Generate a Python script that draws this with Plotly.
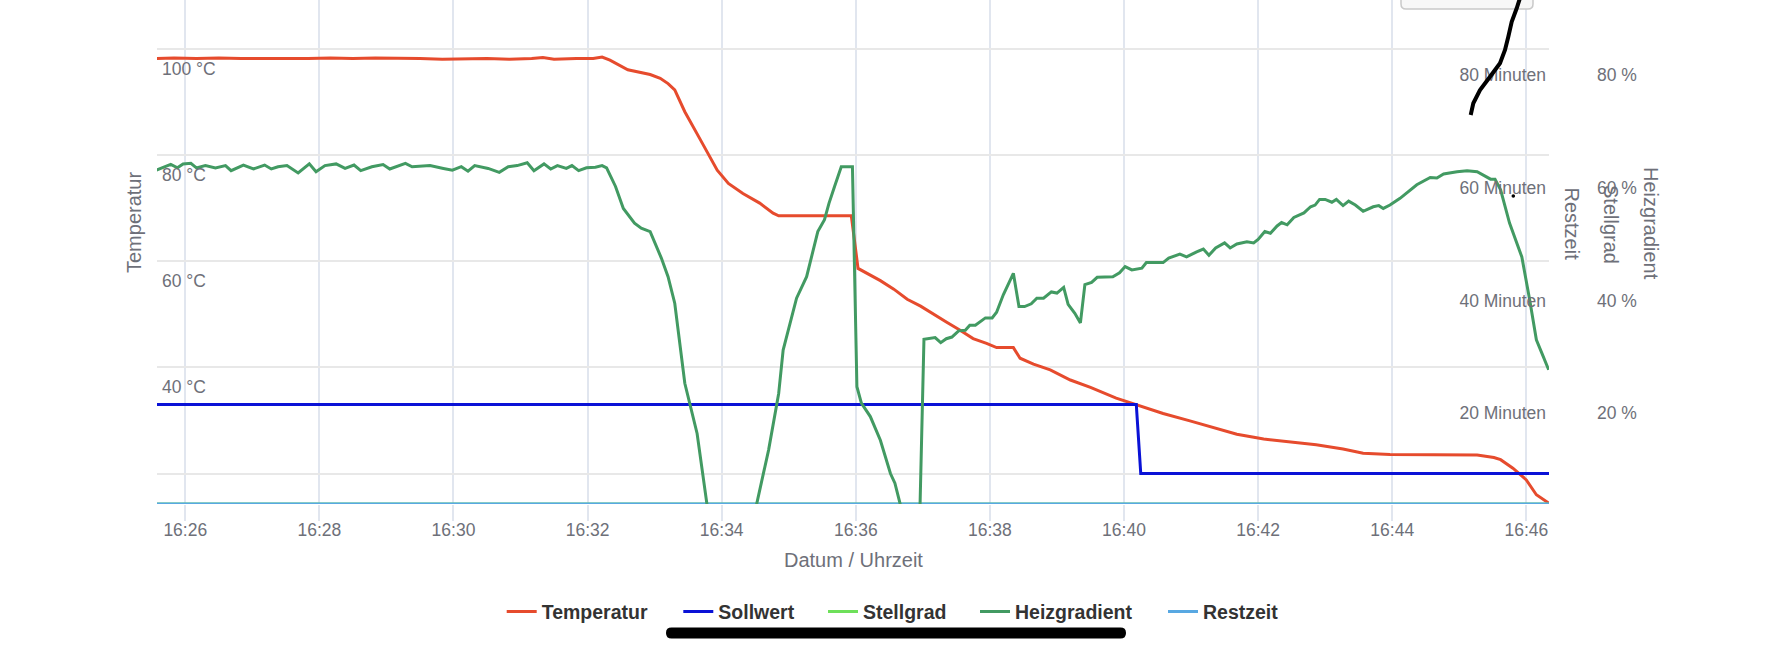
import plotly.graph_objects as go

DAY = "2024-03-10"

# ---------------- data ----------------
temp_times = ["16:25:34", "16:25:50", "16:26:10", "16:26:30", "16:26:50", "16:27:10", "16:27:30",
              "16:27:50", "16:28:10", "16:28:30", "16:28:50", "16:29:10", "16:29:30", "16:29:50",
              "16:30:10", "16:30:30", "16:30:50", "16:31:10", "16:31:20", "16:31:30", "16:31:50",
              "16:32:05", "16:32:13", "16:32:20", "16:32:36", "16:32:56", "16:33:05", "16:33:12",
              "16:33:18", "16:33:27", "16:33:41", "16:33:56", "16:34:06", "16:34:19", "16:34:34",
              "16:34:46", "16:34:51", "16:35:56", "16:36:02", "16:36:10", "16:36:22", "16:36:34",
              "16:36:46", "16:36:58", "16:37:09", "16:37:21", "16:37:33", "16:37:45", "16:37:57",
              "16:38:06", "16:38:21", "16:38:27", "16:38:39", "16:38:54", "16:39:12", "16:39:30",
              "16:39:53", "16:40:11", "16:40:35", "16:40:59", "16:41:17", "16:41:41", "16:42:05",
              "16:42:29", "16:42:52", "16:43:16", "16:43:34", "16:43:58", "16:44:34", "16:45:16",
              "16:45:31", "16:45:37", "16:45:48", "16:46:00", "16:46:09", "16:46:18", "16:46:21"]
temp_values = [98.1, 98.2, 98.1, 98.2, 98.1, 98.1, 98.0,
               98.1, 98.2, 98.1, 98.2, 98.2, 98.1, 98.0,
               98.1, 98.1, 98.0, 98.1, 98.3, 98.0, 98.1,
               98.1, 98.4, 97.8, 96.0, 95.1, 94.4, 93.4,
               92.2, 88.1, 82.8, 77.1, 74.6, 72.7, 70.9,
               69.0, 68.5, 68.5, 58.6, 57.7, 56.3, 54.7,
               52.8, 51.5, 50.0, 48.5, 47.0, 45.4, 44.5,
               43.7, 43.7, 41.7, 40.6, 39.5, 37.6, 36.2,
               34.2, 32.9, 31.3, 29.9, 28.8, 27.4, 26.5,
               25.9, 25.4, 24.6, 23.8, 23.6, 23.5, 23.5,
               23.0, 22.6, 21.0, 18.8, 16.0, 14.7, 14.3]

soll_times = ["16:25:34", "16:40:11", "16:40:15", "16:46:21"]
soll_values = [33, 33, 20, 20]

stell_times = ["16:25:34", "16:46:21"]
stell_values = [0, 0]

heiz_times = ["16:25:34", "16:25:47", "16:25:53", "16:25:58", "16:26:05", "16:26:10", "16:26:18",
              "16:26:27", "16:26:36", "16:26:41", "16:26:52", "16:27:01", "16:27:11", "16:27:17",
              "16:27:23", "16:27:31", "16:27:41", "16:27:51", "16:27:57", "16:28:05", "16:28:15",
              "16:28:23", "16:28:31", "16:28:37", "16:28:47", "16:28:57", "16:29:03", "16:29:17",
              "16:29:23", "16:29:39", "16:29:51", "16:29:59", "16:30:07", "16:30:13", "16:30:19",
              "16:30:31", "16:30:41", "16:30:49", "16:30:57", "16:31:06", "16:31:12", "16:31:21",
              "16:31:27", "16:31:33", "16:31:41", "16:31:46", "16:31:52", "16:31:59", "16:32:07",
              "16:32:13", "16:32:17", "16:32:25", "16:32:32", "16:32:42", "16:32:48", "16:32:56",
              "16:33:06", "16:33:12", "16:33:18", "16:33:27", "16:33:38", "16:34:04", "16:34:42",
              "16:34:51", "16:34:55", "16:35:01", "16:35:07", "16:35:16", "16:35:26", "16:35:32",
              "16:35:36", "16:35:41", "16:35:47", "16:35:57", "16:36:01", "16:36:05", "16:36:13",
              "16:36:22", "16:36:31", "16:36:35", "16:36:56", "16:37:01", "16:37:11", "16:37:16",
              "16:37:21", "16:37:26", "16:37:32", "16:37:38", "16:37:42", "16:37:47", "16:37:56",
              "16:38:02", "16:38:06", "16:38:12", "16:38:21", "16:38:26", "16:38:31", "16:38:37",
              "16:38:42", "16:38:48", "16:38:55", "16:39:00", "16:39:06", "16:39:10", "16:39:16",
              "16:39:21", "16:39:25", "16:39:31", "16:39:36", "16:39:50", "16:39:56", "16:40:01",
              "16:40:07", "16:40:16", "16:40:20", "16:40:35", "16:40:40", "16:40:50", "16:40:56",
              "16:41:05", "16:41:11", "16:41:16", "16:41:22", "16:41:30", "16:41:35", "16:41:41",
              "16:41:50", "16:41:56", "16:42:00", "16:42:06", "16:42:11", "16:42:17", "16:42:21",
              "16:42:26", "16:42:32", "16:42:41", "16:42:47", "16:42:51", "16:42:55", "16:43:00",
              "16:43:06", "16:43:10", "16:43:16", "16:43:21", "16:43:27", "16:43:34", "16:43:43",
              "16:43:48", "16:43:52", "16:43:58", "16:44:07", "16:44:22", "16:44:34", "16:44:40",
              "16:44:46", "16:44:58", "16:45:07", "16:45:16", "16:45:22", "16:45:28", "16:45:32",
              "16:45:37", "16:45:45", "16:45:56", "16:46:03", "16:46:09", "16:46:14", "16:46:20"]
heiz_values = [59.2, 60.2, 59.6, 60.3, 60.4, 59.6, 60.0,
               59.6, 60.0, 59.1, 60.1, 59.4, 60.1, 59.4,
               59.8, 60.0, 58.7, 60.3, 58.9, 60.0, 60.3,
               59.5, 60.1, 59.1, 59.8, 60.2, 59.4, 60.4,
               59.8, 60.0, 59.5, 59.2, 59.8, 59.0, 60.0,
               59.5, 58.8, 59.8, 60.0, 60.5, 59.1, 60.3,
               59.4, 60.0, 59.5, 60.0, 59.1, 59.6, 59.7,
               60.0, 59.6, 56.3, 52.4, 49.8, 48.9, 48.3,
               43.6, 40.3, 35.6, 21.4, 12.5, -24.5, 9.6,
               19.6, 27.3, 32.0, 36.5, 40.3, 48.3, 50.4,
               53.3, 56.3, 59.8, 59.8, 20.8, 17.9, 15.5,
               11.3, 5.4, 3.7, -12.8, 29.2, 29.5, 28.6,
               29.3, 29.6, 30.7, 30.8, 31.7, 31.7, 33.0,
               33.0, 34.0, 37.1, 40.9, 35.0, 35.0, 35.5,
               36.5, 36.5, 37.6, 37.4, 38.4, 35.4, 33.8,
               32.1, 38.9, 39.3, 40.2, 40.3, 41.0, 42.1,
               41.5, 41.8, 42.8, 42.8, 43.6, 44.3, 43.8,
               44.7, 45.2, 44.1, 45.4, 46.3, 45.4, 46.1,
               46.5, 46.3, 46.9, 48.3, 48.0, 49.3, 49.9,
               49.5, 50.8, 51.6, 52.7, 53.0, 54.0, 54.0,
               53.5, 54.0, 52.9, 53.7, 53.0, 51.9, 52.7,
               52.9, 52.4, 53.0, 54.2, 56.6, 57.9, 57.8,
               58.5, 58.9, 59.1, 58.9, 58.2, 57.6, 57.6,
               55.7, 49.8, 43.8, 36.2, 29.1, 26.7, 23.8]

rest_times = ["16:25:34", "16:46:21"]
rest_values = [0, 0]

x_tick_times = ["16:26", "16:28", "16:30", "16:32", "16:34", "16:36",
                "16:38", "16:40", "16:42", "16:44", "16:46"]
temp_tick_vals = [20, 40, 60, 80, 100]
temp_tick_text = ["", "40 °C", "60 °C", "80 °C", "100 °C"]
right_tick_vals = [20, 40, 60, 80]
minute_tick_text = ["20 Minuten", "40 Minuten", "60 Minuten", "80 Minuten"]
percent_tick_text = ["20 %", "40 %", "60 %", "80 %"]

x_range = ["16:25:34.7", "16:46:20.3"]
temp_range = [14.26, 109.13]
right_range = [0, 89.36]


def ts(times):
    return [f"{DAY} {t}" for t in times]


# ---------------- layout helpers ----------------
W, H = 1792, 654
L, R, T, B = 157, 243, 0, 150
PW, PH = W - L - R, H - T - B


def px(x, y):
    return (x - L) / PW, (H - B - y) / PH


FONT = "Liberation Sans, Arial, Helvetica, sans-serif"
LABEL = "#6e7079"
GRID_X = "#e1e6ef"
GRID_Y = "#e8e8e8"

fig = go.Figure()

# Stellgrad and Restzeit share the minute/percent scale (y2); Restzeit is drawn on top.
series = [
    ("Temperatur", temp_times, temp_values, "y", "#e64b2d", "legend"),
    ("Sollwert", soll_times, soll_values, "y", "#0a12d6", "legend2"),
    ("Stellgrad", stell_times, stell_values, "y2", "#6ee05a", "legend3"),
    ("Heizgradient", heiz_times, heiz_values, "y3", "#429a62", "legend4"),
    ("Restzeit", rest_times, rest_values, "y2", "#58a8e2", "legend5"),
]
for name, tt, vv, yax, color, lg in series:
    fig.add_trace(go.Scatter(
        x=ts(tt), y=vv, name=name, mode="lines", yaxis=yax, legend=lg,
        line=dict(color=color, width=3), hoverinfo="skip"))

legend_x = [506.7, 683.3, 828.0, 980.0, 1168.0]
legend_names = ["legend", "legend2", "legend3", "legend4", "legend5"]
ly = px(0, 611.7)[1]
legends = {}
for nm, lx in zip(legend_names, legend_x):
    legends[nm] = dict(
        x=px(lx - 5, 0)[0], y=ly, xanchor="left", yanchor="middle",
        orientation="h", bgcolor="rgba(0,0,0,0)", borderwidth=0,
        font=dict(family=FONT, size=19.5, color="#333333", weight="bold"),
        itemclick=False, itemdoubleclick=False)

tick_font = dict(family=FONT, size=17.5, color=LABEL)

fig.update_layout(
    width=W, height=H, margin=dict(l=L, r=R, t=T, b=B, pad=0),
    paper_bgcolor="white", plot_bgcolor="white",
    font=dict(family=FONT, color=LABEL),
    showlegend=True,
    **legends,
    xaxis=dict(
        type="date", range=ts(x_range), tickmode="array",
        tickvals=ts(x_tick_times), ticktext=x_tick_times,
        showgrid=True, gridcolor=GRID_X, gridwidth=1.5,
        ticks="outside", ticklen=16, tickwidth=1.5, tickcolor=GRID_X,
        ticklabelstandoff=-6,
        showline=False, zeroline=False, tickfont=tick_font),
    # temperature axis: labels drawn to the right of the left plot edge
    yaxis=dict(
        range=temp_range, tickmode="array", tickvals=temp_tick_vals,
        ticktext=temp_tick_text, side="right", anchor="free", position=0,
        shift=4, autoshift=False, ticklabelshift=20,
        ticks="", showgrid=True, gridcolor=GRID_Y, gridwidth=2,
        showline=False, zeroline=False, tickfont=tick_font),
    # Restzeit axis: labels drawn to the left of the right plot edge
    yaxis2=dict(
        range=right_range, overlaying="y", side="left", anchor="free",
        position=1, shift=-3, autoshift=False,
        tickmode="array", tickvals=right_tick_vals, ticktext=minute_tick_text,
        ticklabelshift=22, ticks="",
        showgrid=False, showline=False, zeroline=False, tickfont=tick_font),
    # Stellgrad / Heizgradient percent axis outside on the right
    yaxis3=dict(
        range=right_range, overlaying="y", side="right", anchor="free",
        position=1, shift=47, autoshift=False,
        tickmode="array", tickvals=right_tick_vals, ticktext=percent_tick_text,
        ticklabelshift=22, ticks="", showgrid=False, showline=False, zeroline=False,
        tickfont=tick_font),
)

# axis titles
title_font = dict(family=FONT, size=20, color=LABEL)
titles = [
    ("Datum / Uhrzeit", 853, 560, 0),
    ("Temperatur", 134, 223, -90),
    ("Restzeit", 1572, 223.5, 90),
    ("Stellgrad", 1611, 224, 90),
    ("Heizgradient", 1651, 223, 90),
]
for text, x, y, ang in titles:
    xp, yp = px(x, y)
    fig.add_annotation(text=text, x=xp, y=yp, xref="paper", yref="paper",
                       xanchor="center", yanchor="middle", showarrow=False,
                       textangle=ang, font=title_font)


def path(points, close=False):
    parts = []
    for cmd, pts in points:
        coords = " ".join("%.5f,%.5f" % px(x, y) for x, y in pts)
        parts.append(f"{cmd}{coords}")
    return " ".join(parts) + (" Z" if close else "")


# phone home indicator
x0, x1, y0, y1 = 666, 1126, 627.5, 638.5
r = 5.5
yc = (y0 + y1) / 2
home = path([("M", [(x0 + r, y0)]), ("L", [(x1 - r, y0)]), ("Q", [(x1, y0), (x1, yc)]),
             ("Q", [(x1, y1), (x1 - r, y1)]), ("L", [(x0 + r, y1)]),
             ("Q", [(x0, y1), (x0, yc)]), ("Q", [(x0, y0), (x0 + r, y0)])], close=True)
fig.add_shape(type="path", path=home, xref="paper", yref="paper",
              fillcolor="black", line=dict(color="black", width=0), layer="above")

# button box at the top edge
bx0, bx1, by0, by1, br = 1401, 1533, -12, 9, 5
box = path([("M", [(bx0, by0)]), ("L", [(bx0, by1 - br)]), ("Q", [(bx0, by1), (bx0 + br, by1)]),
            ("L", [(bx1 - br, by1)]), ("Q", [(bx1, by1), (bx1, by1 - br)]), ("L", [(bx1, by0)])])
fig.add_shape(type="path", path=box, xref="paper", yref="paper",
              fillcolor="#f7f7f7", line=dict(color="#c9c9c9", width=1.5), layer="above")

# pen scribble
scrib = [(1470.7, 115), (1473.3, 103.3), (1480, 90), (1490, 76.7), (1500, 63.3), (1505, 50),
         (1508.3, 36.7), (1511.7, 21.7), (1516.7, 8.3), (1520, -2)]
sp = path([("M", [scrib[0]])] + [("L", [p]) for p in scrib[1:]])
fig.add_shape(type="path", path=sp, xref="paper", yref="paper",
              line=dict(color="black", width=4), layer="above")
dx0, dy0 = px(1511.5, 194.2)
dx1, dy1 = px(1515.1, 197.8)
fig.add_shape(type="circle", x0=dx0, y0=dy0, x1=dx1, y1=dy1, xref="paper", yref="paper",
              fillcolor="black", line=dict(width=0), layer="above")

fig.write_html("out.html", config={"displayModeBar": False},
               post_script="document.body.style.margin='0';document.body.style.overflow='hidden';")
